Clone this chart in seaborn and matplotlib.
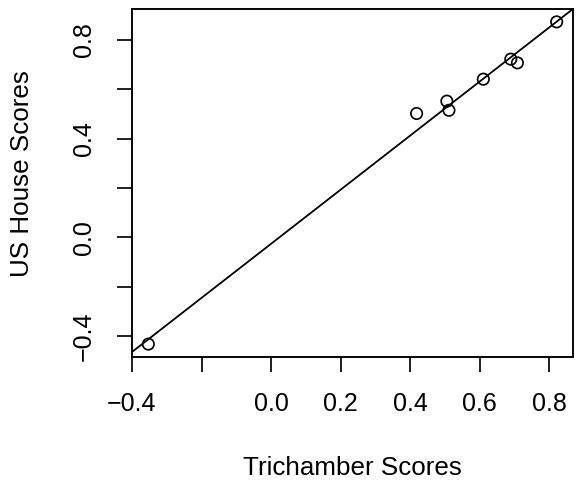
import numpy as np
import pandas as pd
import matplotlib
matplotlib.use("Agg")
import matplotlib.pyplot as plt
import seaborn as sns

# Data
trichamber = [-0.353, 0.419, 0.506, 0.512, 0.611, 0.690, 0.709, 0.822]
us_house = [-0.432, 0.502, 0.552, 0.515, 0.641, 0.722, 0.707, 0.873]

x_ticks = [-0.4, -0.2, 0.0, 0.2, 0.4, 0.6, 0.8]
x_tick_labels = ["\u22120.4", "", "0.0", "0.2", "0.4", "0.6", "0.8"]
y_ticks = [-0.4, -0.2, 0.0, 0.2, 0.4, 0.6, 0.8]
y_tick_labels = ["\u22120.4", "", "0.0", "", "0.4", "", "0.8"]

df = pd.DataFrame({"Trichamber Scores": trichamber, "US House Scores": us_house})

sns.set_style("white")
plt.rcParams["font.family"] = ["Liberation Sans", "DejaVu Sans"]
plt.rcParams["text.color"] = "black"
plt.rcParams["axes.labelcolor"] = "black"

fig = plt.figure(figsize=(576 / 72, 484 / 72), dpi=72)
ax = fig.add_axes([132 / 576, 1 - 357 / 484, (573 - 132) / 576, (357 - 9) / 484])

sns.scatterplot(data=df, x="Trichamber Scores", y="US House Scores", ax=ax,
                marker="o", s=130, facecolor="none", edgecolor="black",
                linewidth=1.7, zorder=3)

# R-style limits (4% expansion)
xr = max(trichamber) - min(trichamber)
yr = max(us_house) - min(us_house)
ax.set_xlim(min(trichamber) - 0.04 * xr, max(trichamber) + 0.04 * xr)
ax.set_ylim(min(us_house) - 0.04 * yr, max(us_house) + 0.04 * yr)

# Least-squares fit line (abline(lm(...)))
slope, intercept = np.polyfit(trichamber, us_house, 1)
ax.axline((0, intercept), slope=slope, color="black", linewidth=1.8, zorder=2)

ax.set_xticks(x_ticks)
ax.set_xticklabels(x_tick_labels)
ax.set_yticks(y_ticks)
ax.set_yticklabels(y_tick_labels, rotation=90, va="center")

ax.tick_params(axis="both", which="major", bottom=True, left=True,
               direction="out", length=15, width=1.7,
               labelsize=25, colors="black")
ax.tick_params(axis="x", pad=20)
ax.tick_params(axis="y", pad=21)

for sp in ax.spines.values():
    sp.set_visible(True)
    sp.set_color("black")
    sp.set_linewidth(1.9)

ax.set_xlabel("Trichamber Scores", fontsize=26, va="center", color="black")
ax.set_ylabel("US House Scores", fontsize=26, va="center", color="black")
ax.xaxis.set_label_coords(0.5, -(468 - 357) / 348)
ax.yaxis.set_label_coords(-(132 - 22) / 441, (357 - 174) / 348)

fig.savefig("out.png", dpi=72)
